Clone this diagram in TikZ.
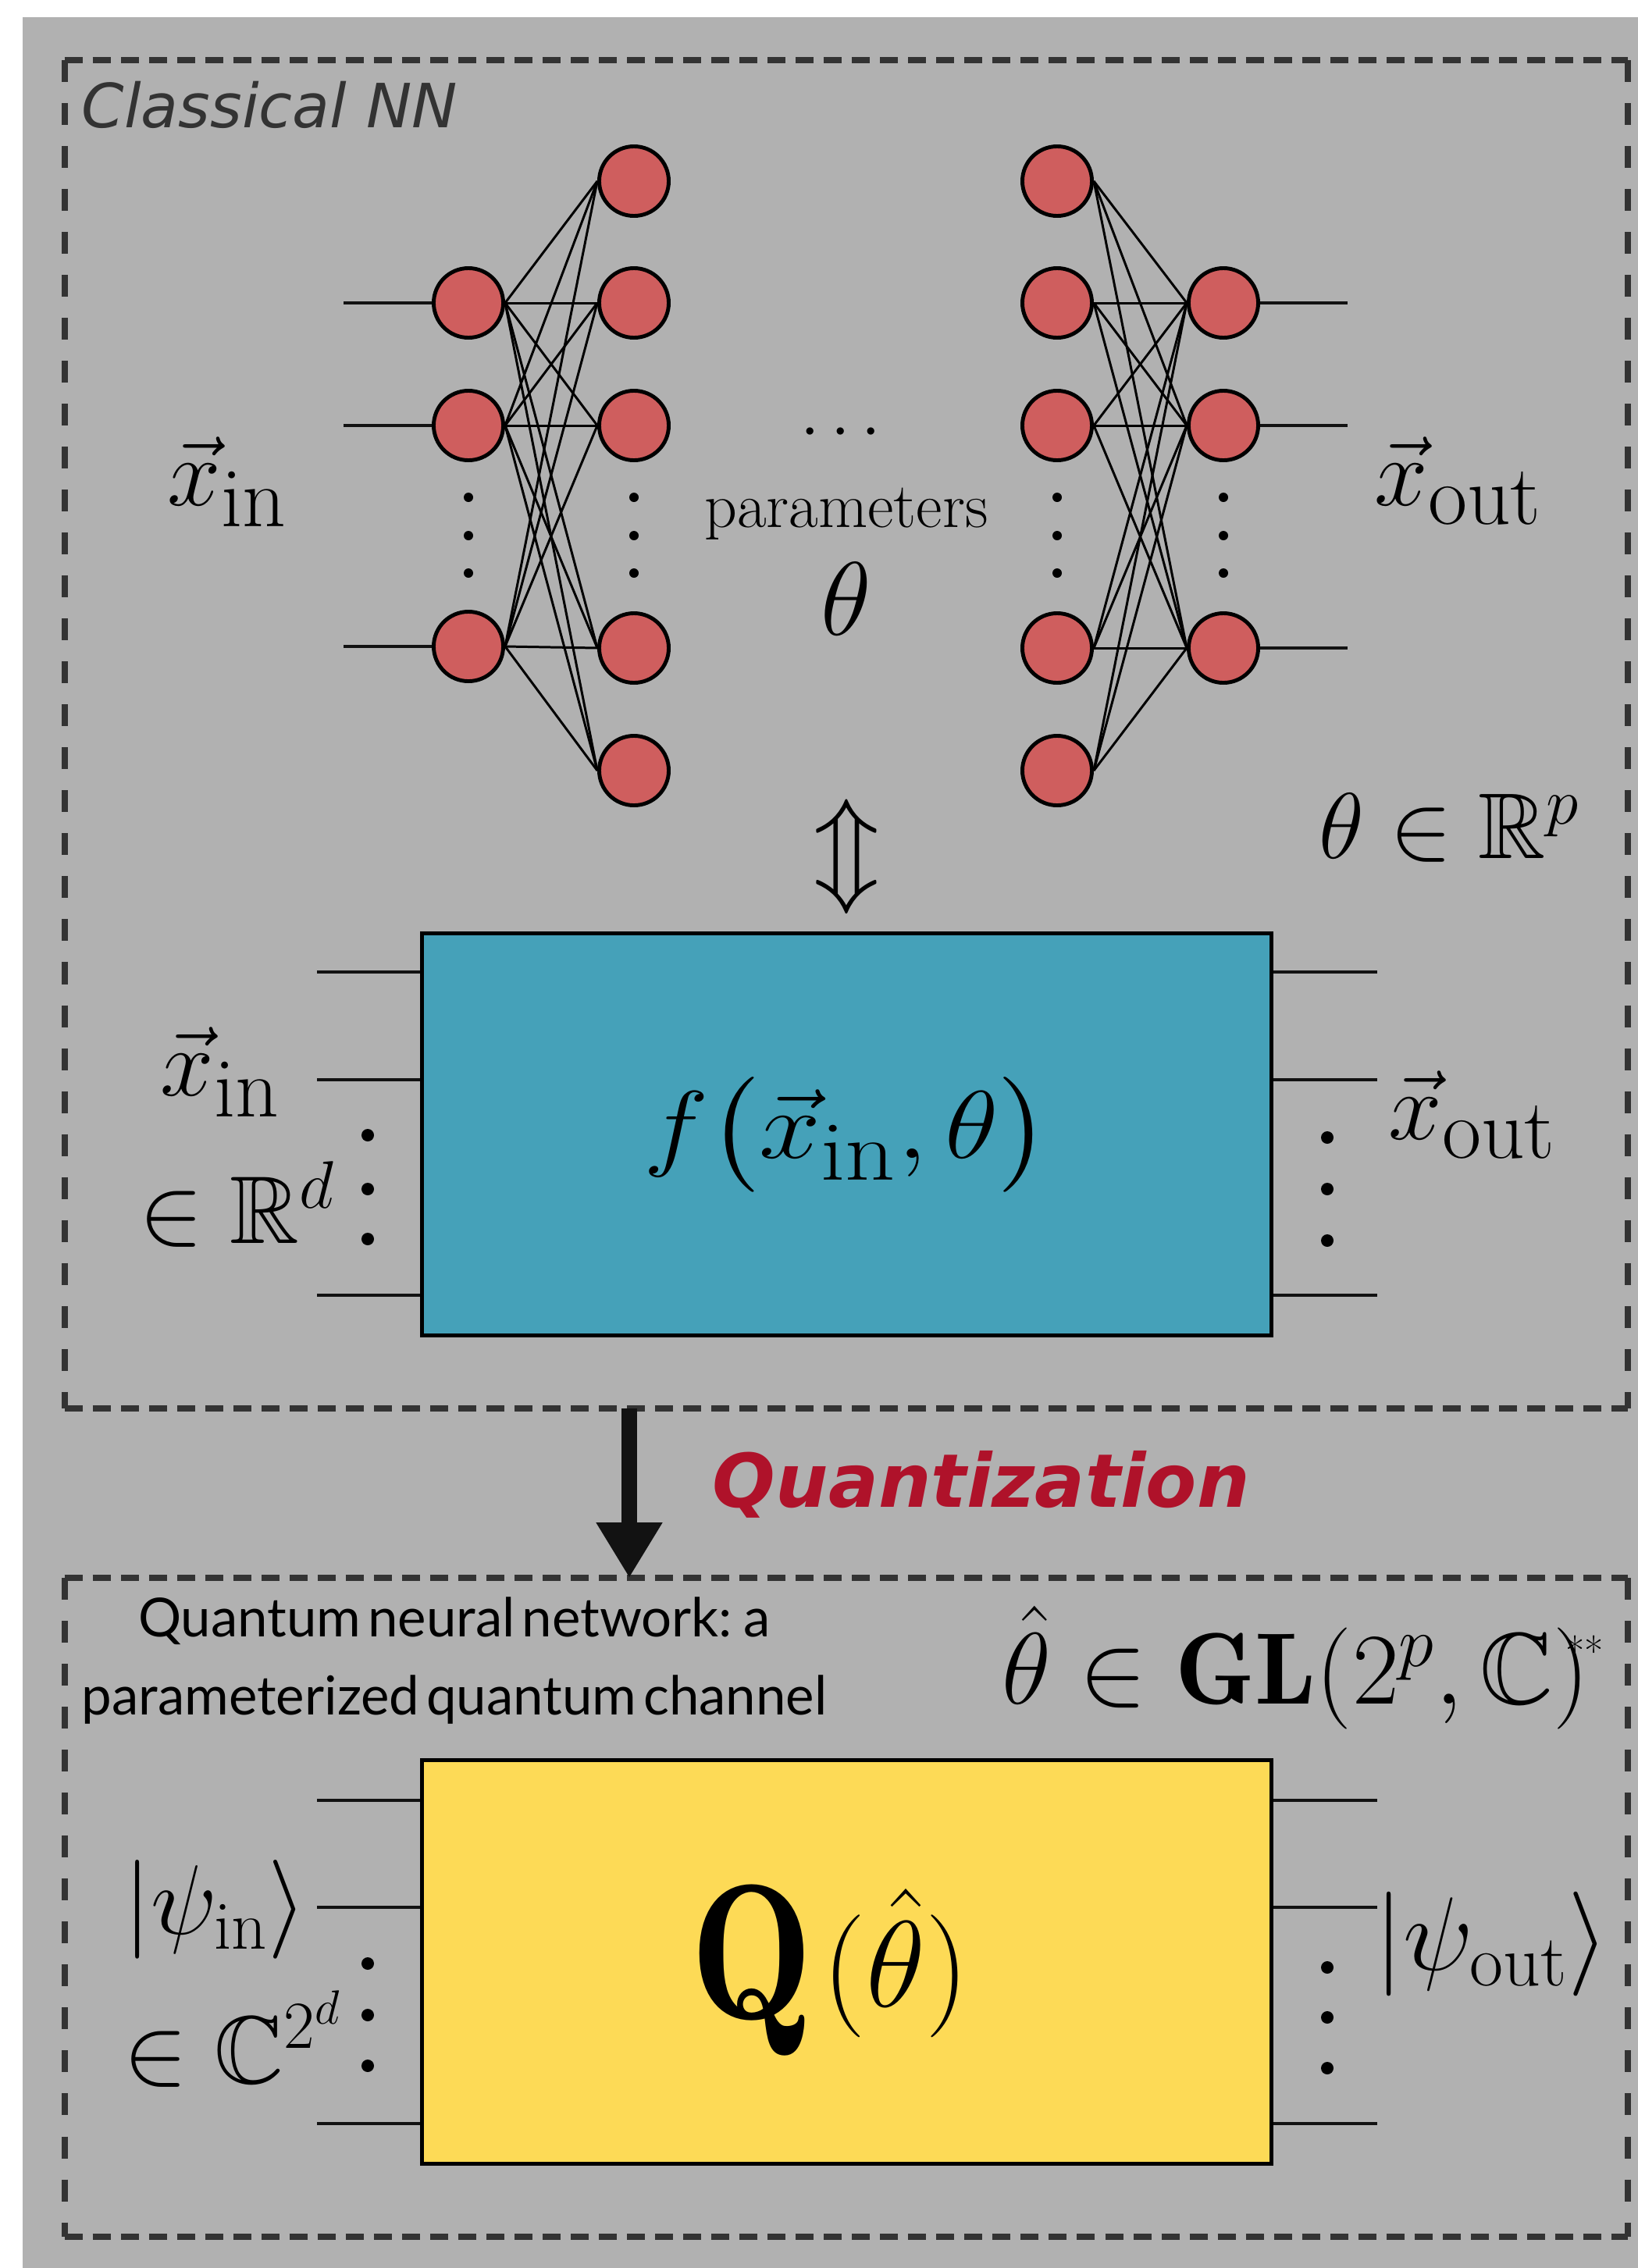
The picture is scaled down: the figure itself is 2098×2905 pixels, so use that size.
\documentclass[tikz,border=0pt]{standalone}
\usepackage{fix-cm}
\usepackage{amssymb,amsmath}
\usepackage{fontspec}
\usepackage{tikz}
\usetikzlibrary{arrows.meta,positioning}
\newfontfamily\dejavu{DejaVu Sans}
\newfontfamily\lato{Lato}[WordSpace=0.5]
\newcommand{\subtxt}[2]{\text{\fontsize{#1}{#1}\selectfont #2}}
\definecolor{bggray}{RGB}{177,177,177}
\definecolor{framegray}{RGB}{51,51,51}
\definecolor{neuronred}{RGB}{207,94,94}
\definecolor{boxteal}{RGB}{69,161,185}
\definecolor{boxyellow}{RGB}{253,218,86}
\definecolor{quantred}{RGB}{175,18,42}

\begin{document}
\begin{tikzpicture}[x=0.01cm,y=-0.01cm,
  neuron/.style={circle,draw,line width=1.4pt,fill=neuronred,minimum size=0.89cm,inner sep=0pt},
  synapse/.style={line width=0.85pt},
  wire/.style={line width=1.4pt,draw=black!93},
  mlab/.style={inner sep=0pt,font=\fontsize{35}{42}\selectfont},
  gate/.style={draw,line width=1.4pt,minimum width=10.88cm,minimum height=5.15cm,inner sep=0pt},
  dashframe/.style={draw=none,minimum width=20cm,inner sep=0pt},
  dashh/.style={draw=framegray,line width=2.3pt,dash pattern=on 0.23cm off 0.13cm},
  dashv/.style={draw=framegray,line width=2.3pt,dash pattern=on 0.28cm off 0.27cm}]
  \useasboundingbox (0,0) rectangle (2098,2905);
  \fill[bggray] (29,22) rectangle (2098,2905);

  \node[dashframe,minimum height=17.25cm] (nn) at (1084,940.5) {};
  \node[dashframe,minimum height=8.42cm] (qnn) at (1084,2443) {};
  \draw[dashh] (nn.north west) -- (nn.north east) (nn.south west) -- (nn.south east);
  \draw[dashv] (nn.north west) -- (nn.south west) (nn.north east) -- (nn.south east);
  \draw[dashh] (qnn.north west) -- (qnn.north east) (qnn.south west) -- (qnn.south east);
  \draw[dashv] (qnn.north west) -- (qnn.south west) (qnn.north east) -- (qnn.south east);

  \node[anchor=base west,inner sep=0pt,text=framegray,font=\dejavu\itshape\fontsize{22.2}{26}\selectfont] (nnlab) at (104,163) {Classical NN};

  \foreach \y [count=\i] in {388,545,828}{
    \node[neuron] (a\i) at (600,\y) {};
    \coordinate (in\i) at (440,\y);
    \draw[wire] (in\i) -- (a\i);
  }
  \foreach \y [count=\i] in {232,388,545,830,987}
    \node[neuron] (b\i) at (812,\y) {};
  \foreach \y [count=\i] in {232,388,545,830,987}
    \node[neuron] (c\i) at (1354,\y) {};
  \foreach \y [count=\i] in {388,545,830}{
    \node[neuron] (d\i) at (1567,\y) {};
    \coordinate (out\i) at (1726,\y);
    \draw[wire] (d\i) -- (out\i);
  }
  \foreach \i in {1,2,3}
    \foreach \j in {1,...,5}{
      \draw[synapse] (a\i.east) -- (b\j.west);
      \draw[synapse] (c\j.east) -- (d\i.west);
    }
  \foreach \x in {600,812,1354,1567}
    \foreach \y in {637,686,734}
      \fill (\x,\y) circle (0.06cm);

  \node[mlab,anchor=base west] (xin) at (214,647) {$\vec{x}_{\subtxt{31}{in}}$};
  \node[mlab,anchor=base west] (xout) at (1760,647) {$\vec{x}_{\subtxt{31}{out}}$};
  \node[inner sep=0pt,anchor=base,font=\fontsize{25}{30}\selectfont] (dots) at (1084,574) {$\cdots$};
  \node[inner sep=0pt,anchor=base,font=\fontsize{23.3}{28}\selectfont] (par) at (1084,675) {parameters};
  \node[inner sep=0pt,anchor=base,font=\fontsize{38}{45}\selectfont] (theta) at (1084,813) {$\theta$};
  \node[inner sep=0pt,anchor=base west,font=\fontsize{34}{41}\selectfont] (thetaR) at (1689,1099) {$\theta\in\mathbb{R}^p$};
  \node[inner sep=0pt,font=\fontsize{40}{48}\selectfont] (link) at (1084,1097) {$\Updownarrow$};

  \node[gate,fill=boxteal,font=\fontsize{35}{42}\selectfont] (f) at (1084.5,1453) {\scalebox{1.15}[1]{$f\bigl(\vec{x}_{\subtxt{31}{in}},\theta\bigr)$}};
  \foreach \y in {1245,1383,1659}{
    \draw[wire] (f.west |- 0,\y) -- ++(-132,0);
    \draw[wire] (f.east |- 0,\y) -- ++(133,0);
  }
  \foreach \y in {1454,1523,1587} \fill (471,\y) circle (0.08cm);
  \foreach \y in {1457,1523,1589} \fill (1700,\y) circle (0.08cm);
  \node[mlab,anchor=base west] (fxin) at (205,1403) {$\vec{x}_{\subtxt{31}{in}}$};
  \node[mlab,anchor=base west] (fdom) at (178,1592) {$\in\mathbb{R}^d$};
  \node[mlab,anchor=base west] (fxout) at (1778,1459) {$\vec{x}_{\subtxt{31}{out}}$};

  \draw[-{Triangle[length=0.71cm,width=0.8cm]},line width=5.7pt,draw=black!93] (nn.south -| 806,0) -- (qnn.north -| 806,0);
  \node[anchor=base west,inner sep=0pt,text=quantred,font=\dejavu\bfseries\itshape\fontsize{27}{32}\selectfont] (quant) at (912,1930) {Quantization};

  \node[anchor=base,inner sep=0pt,font=\lato\fontsize{19.6}{24}\selectfont] (qnnlab1) at (582,2096) {Quantum neural network: a};
  \node[anchor=base,inner sep=0pt,font=\lato\fontsize{19.6}{24}\selectfont] (qnnlab2) at (582,2196) {parameterized quantum channel};
  \node[inner sep=0pt,anchor=base west,font=\fontsize{37}{44}\selectfont] (thetahat) at (1283,2182) {$\hat{\theta}\in\mathbf{GL}(2^p,\mathbb{C})^{\hspace{-0.3cm}\subtxt{15}{**}}$};

  \node[gate,fill=boxyellow,minimum height=5.17cm] (q) at (1084.5,2513) {};
  \node[anchor=base west,inner sep=0pt] (qlab) at (884,2585) {\fontsize{70}{84}\selectfont\scalebox{0.85}[1]{$\mathbf{Q}$}\hspace{0.12cm}\raisebox{0.15cm}{\fontsize{44.7}{54}\selectfont$(\hat{\theta})$}};
  \foreach \y in {2306,2443,2720}{
    \draw[wire] (q.west |- 0,\y) -- ++(-132,0);
    \draw[wire] (q.east |- 0,\y) -- ++(133,0);
  }
  \foreach \y in {2515,2581,2646} \fill (471,\y) circle (0.08cm);
  \foreach \y in {2520,2584,2649} \fill (1700,\y) circle (0.08cm);
  \node[inner sep=0pt,anchor=base west,font=\fontsize{36}{43}\selectfont] (qin) at (158,2477) {$|\psi_{\mathrm{in}}\rangle$};
  \node[mlab,anchor=base west] (qdom) at (158,2668) {$\in\mathbb{C}^{2^d}$};
  \node[inner sep=0pt,anchor=base west,font=\fontsize{38}{45}\selectfont] (qout) at (1760,2523) {$|\psi_{\mathrm{out}}\rangle$};
\end{tikzpicture}
\end{document}
